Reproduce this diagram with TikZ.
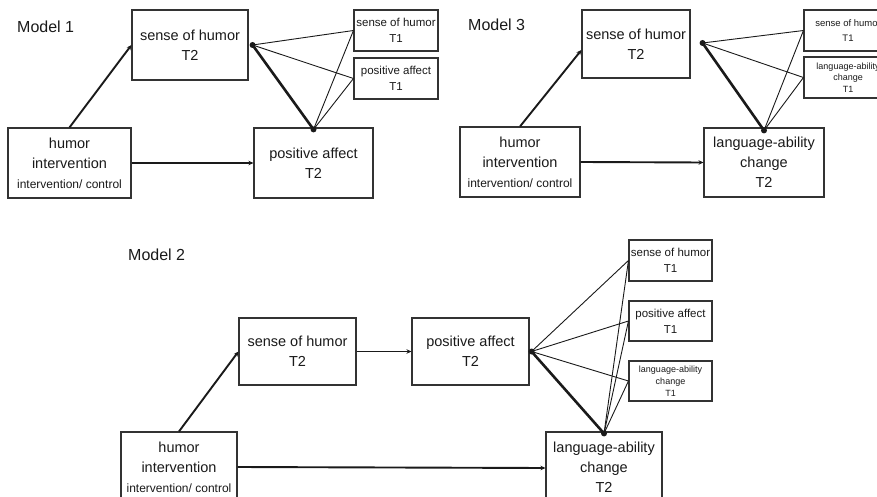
\documentclass[tikz,border=0pt]{standalone}
\usepackage{fontspec}
\setmainfont{Liberation Sans}
\usetikzlibrary{arrows.meta}
\definecolor{ink}{HTML}{1A1A1A}
\definecolor{edge}{HTML}{333333}
\tikzset{
  box/.style={draw=edge, line width=1.1pt, rectangle, inner sep=0pt, align=center, text=ink, anchor=center},
  big/.style={font=\fontsize{14.5}{20}\selectfont},
  mid/.style={font=\fontsize{11.5}{16}\selectfont},
  tiny/.style={font=\fontsize{9}{12}\selectfont},
  title/.style={font=\fontsize{16}{18}\selectfont, text=ink, anchor=west, inner sep=0pt},
  path/.style={draw=ink, line width=1.9pt, -{Stealth[length=5pt,width=4.5pt]}},
  bold/.style={draw=ink, line width=2.6pt},
  thin/.style={draw=ink, line width=0.9pt},
  dot/.style={circle, fill=ink, inner sep=0pt, minimum size=6pt}
}
\newcommand{\subline}[1]{{\fontsize{12}{15}\selectfont #1}}
\begin{document}
\begin{tikzpicture}[x=1pt,y=-1pt]
\useasboundingbox (0,0) rectangle (877,497);
\fill[white] (0,0) rectangle (877,497);

% ---------------- Model 1 ----------------
\node[title] (t1) at (17,27) {Model 1};
\node[box,big,minimum width=116pt,minimum height=70pt] (m1s) at (190,45) {sense of humor\\T2};
\node[box,mid,minimum width=84pt,minimum height=41pt] (m1sT) at (396,30.5) {sense of humor\\T1};
\node[box,mid,minimum width=84pt,minimum height=41pt] (m1pT) at (396,78.5) {positive affect\\T1};
\node[box,big,minimum width=123pt,minimum height=70pt] (m1h) at (69.5,163) {humor\\intervention\\\subline{intervention/ control}};
\node[box,big,minimum width=119pt,minimum height=70pt] (m1p) at (313.5,163) {positive affect\\T2};
\coordinate (m1a) at ([xshift=4pt]m1s.east);
\coordinate (m1b) at ([yshift=-2pt]m1p.north);
\draw[path] (m1h.north) -- (m1s.west);
\draw[path] (m1h.east) -- (m1p.west);
\draw[bold] (m1a) -- (m1b);
\draw[thin] (m1a) -- (m1sT.west);
\draw[thin] (m1a) -- (m1pT.west);
\draw[thin] (m1b) -- (m1sT.west);
\draw[thin] (m1b) -- (m1pT.west);
\node[dot] (m1ad) at (m1a) {};
\node[dot] (m1bd) at (m1b) {};

% ---------------- Model 3 ----------------
\node[title] (t3) at (468,25) {Model 3};
\node[box,big,minimum width=108pt,minimum height=68pt] (m3s) at (636,44) {sense of humor\\T2};
\node[box,minimum width=88pt,minimum height=41pt,font=\fontsize{9.5}{15}\selectfont] (m3sT) at (848,30.5) {sense of humor\\T1};
\node[box,minimum width=88pt,minimum height=41pt,font=\fontsize{9}{11.5}\selectfont] (m3lT) at (848,77.5) {language-ability\\change\\T1};
\node[box,big,minimum width=120pt,minimum height=70pt] (m3h) at (520,162) {humor\\intervention\\\subline{intervention/ control}};
\node[box,big,minimum width=120pt,minimum height=69pt] (m3l) at (764,162.5) {language-ability\\change\\T2};
\coordinate (m3a) at ([xshift=12pt,yshift=1pt]m3s.east);
\coordinate (m3b) at ([yshift=-3pt]m3l.north);
\draw[path] (m3h.north) -- ([yshift=-6pt]m3s.west);
\draw[path] (m3h.east) -- (m3l.west);
\draw[bold] (m3a) -- (m3b);
\draw[thin] (m3a) -- (m3sT.west);
\draw[thin] (m3a) -- (m3lT.west);
\draw[thin] (m3b) -- (m3sT.west);
\draw[thin] (m3b) -- (m3lT.west);
\node[dot] (m3ad) at (m3a) {};
\node[dot] (m3bd) at (m3b) {};

% ---------------- Model 2 ----------------
\node[title] (t2) at (128,255) {Model 2};
\node[box,big,minimum width=117pt,minimum height=67pt] (m2s) at (297.5,351.5) {sense of humor\\T2};
\node[box,big,minimum width=117pt,minimum height=67pt] (m2p) at (470.5,351.5) {positive affect\\T2};
\node[box,big,minimum width=116pt,minimum height=70pt] (m2h) at (179,467) {humor\\intervention\\\subline{intervention/ control}};
\node[box,big,minimum width=116pt,minimum height=70pt] (m2l) at (604,467) {language-ability\\change\\T2};
\node[box,mid,minimum width=83pt,minimum height=41pt] (m2sT) at (670.5,260.5) {sense of humor\\T1};
\node[box,mid,minimum width=83pt,minimum height=40pt] (m2pT) at (670.5,321) {positive affect\\T1};
\node[box,tiny,minimum width=83pt,minimum height=40pt] (m2lT) at (670.5,381) {language-ability\\change\\T1};
\coordinate (m2a) at ([xshift=2pt]m2p.east);
\coordinate (m2b) at ([yshift=-2pt]m2l.north);
\draw[path] (m2h.north) -- (m2s.west);
\draw[path] (m2s.east) -- (m2p.west);
\draw[path] (m2h.east) -- ([yshift=-1pt]m2l.west);
\draw[bold] (m2a) -- (m2b);
\foreach \t in {m2sT,m2pT,m2lT}{
  \draw[thin] (m2a) -- (\t.west);
  \draw[thin] (m2b) -- (\t.west);
}
\node[dot] (m2ad) at (m2a) {};
\node[dot] (m2bd) at (m2b) {};
\end{tikzpicture}
\end{document}
